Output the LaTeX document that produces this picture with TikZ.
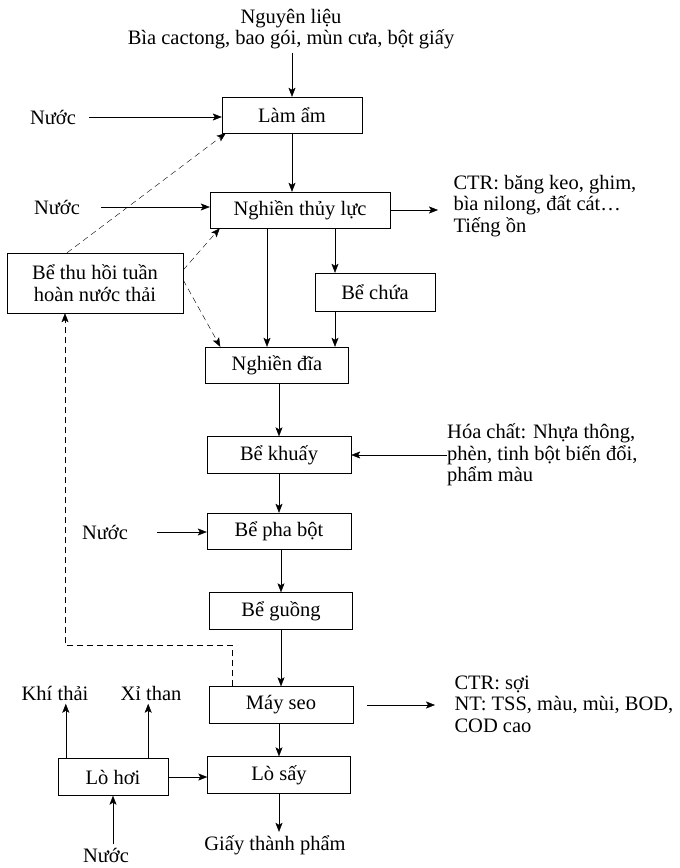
\documentclass[tikz,border=0pt]{standalone}
\usepackage{fontspec}
\setmainfont{Liberation Serif}
\usetikzlibrary{positioning, arrows, arrows.meta}
\usetikzlibrary{calc}
\tikzset{
->, % every connector is directed
>={Stealth[length=9pt, width=7pt, inset=2pt]}, % filled arrow heads as in the scan
line width=1.4pt, % lines of the scan are rather heavy
every node/.style={font=\fontsize{20.5}{21.5}\selectfont, align=center}, % text of the whole sheet
procbox/.style={draw, minimum height=37pt, inner sep=2pt}, % a step of the process
sidetext/.style={anchor=west, align=left}, % notes on the right hand side
recyc/.style={dash pattern=on 6pt off 4pt}, % recycled water lines
}

\begin{document}
\begin{tikzpicture}[x=1pt, y=-1pt]
    \useasboundingbox (0,0) rectangle (680,868);
    % main line
    \node (nguyenlieu) at (291,29) {Nguyên liệu\\Bìa cactong, bao gói, mùn cưa, bột giấy};
    \node[procbox, minimum width=140pt, minimum height=36pt] (lamam) at (292,115) {Làm ẩm};
    \node[procbox, minimum width=180pt, minimum height=36pt] (nghientl) at (300,210) {Nghiền thủy lực};
    \node[procbox, minimum width=120pt, minimum height=38pt] (bechua) at (375,292) {Bể chứa};
    \node[procbox, minimum width=143pt, minimum height=36pt] (nghiendia) at (277,365) {Nghiền đĩa};
    \node[procbox, minimum width=144pt] (bekhuay) at (279,455) {Bể khuấy};
    \node[procbox, minimum width=144pt, minimum height=36pt] (bephabot) at (279,531) {Bể pha bột};
    \node[procbox, minimum width=143pt] (beguong) at (281,611) {Bể guồng};
    \node[procbox, minimum width=144pt] (mayseo) at (281,705) {Máy seo};
    \node[procbox, minimum width=143pt] (losay) at (279,775) {Lò sấy};
    \node (giaytp) at (275,845) {Giấy thành phẩm};
    % left side
    \node (nuoca) at (53,117) {Nước};
    \node (nuocb) at (57,207) {Nước};
    \node[procbox, minimum width=176pt, minimum height=60pt] (bethuhoi) at (95,283) {Bể thu hồi tuần\\hoàn nước thải};
    \node (nuocc) at (105,532) {Nước};
    \node[procbox, minimum width=110pt] (lohoi) at (113,777) {Lò hơi};
    \node (khithai) at (55,693) {Khí thải};
    \node (xithan) at (151,693) {Xỉ than};
    \node (nuocd) at (106,855) {Nước};
    % right side
    \node[sidetext] (ctra) at (450,206) {CTR: băng keo, ghim,\\bìa nilong, đất cát…\\Tiếng ồn};
    \node[sidetext, inner xsep=0pt] (hoachat) at (447,455) {Hóa chất: Nhựa thông,\\phèn, tinh bột biến đổi,\\phẩm màu};
    \node[sidetext] (ctrb) at (451,704) {CTR: sợi\\NT: TSS, màu, mùi, BOD,\\COD cao};

    \draw (nguyenlieu.south -| lamam) -- (lamam);
    \draw[shorten <=10pt] (nuoca) -- (nuoca -| lamam.west);
    \draw (lamam) -- (lamam |- nghientl.north);
    \draw[shorten <=18pt] (nuocb) -- (nuocb -| nghientl.west);
    \draw[shorten >=12pt] (nghientl.east) -- (nghientl.east -| ctra.west);
    \draw ([xshift=-33pt]nghientl.south) -- ([xshift=-33pt]nghientl.south |- nghiendia.north);
    \draw ([xshift=35pt]nghientl.south) -- ([xshift=35pt]nghientl.south |- bechua.north);
    \draw ([xshift=-40pt]bechua.south) -- ([xshift=-40pt]bechua.south |- nghiendia.north);
    \draw (nghiendia.south -| bekhuay) -- (bekhuay);
    \draw (hoachat.west) -- (hoachat.west -| bekhuay.east);
    \draw (bekhuay) -- (bephabot);
    \draw[shorten <=26pt] (nuocc) -- (nuocc -| bephabot.west);
    \draw (bephabot.south -| beguong) -- (beguong);
    \draw (beguong) -- (mayseo);
    \draw[shorten <=14pt, shorten >=16pt] (mayseo.east) -- (mayseo.east -| ctrb.west);
    \draw (mayseo.south -| losay) -- (losay);
    \draw (losay) -- (losay |- giaytp.north);
    \draw (lohoi.east) -- (lohoi.east -| losay.west);
    \draw ([xshift=8pt]lohoi.north west) -- ([xshift=8pt]lohoi.north west |- khithai.south);
    \draw ([xshift=-20pt]lohoi.north east) -- ([xshift=-20pt]lohoi.north east |- xithan.south);
    \draw (nuocd.north -| lohoi) -- (lohoi);
    % water recovery
    \draw[recyc] ([xshift=-28pt]bethuhoi.north) -- ([xshift=4pt]lamam.south west);
    \draw[recyc] ([yshift=13pt]bethuhoi.east) -- ([xshift=10pt]nghientl.south west);
    \draw[recyc] ([yshift=3pt]bethuhoi.east) -- ([xshift=15pt]nghiendia.north west);
    \coordinate (retn) at (65,645);
    \draw[recyc] ([xshift=-49pt]mayseo.north) |- (retn) -- ([xshift=-30pt]bethuhoi.south);
\end{tikzpicture}
\end{document}
